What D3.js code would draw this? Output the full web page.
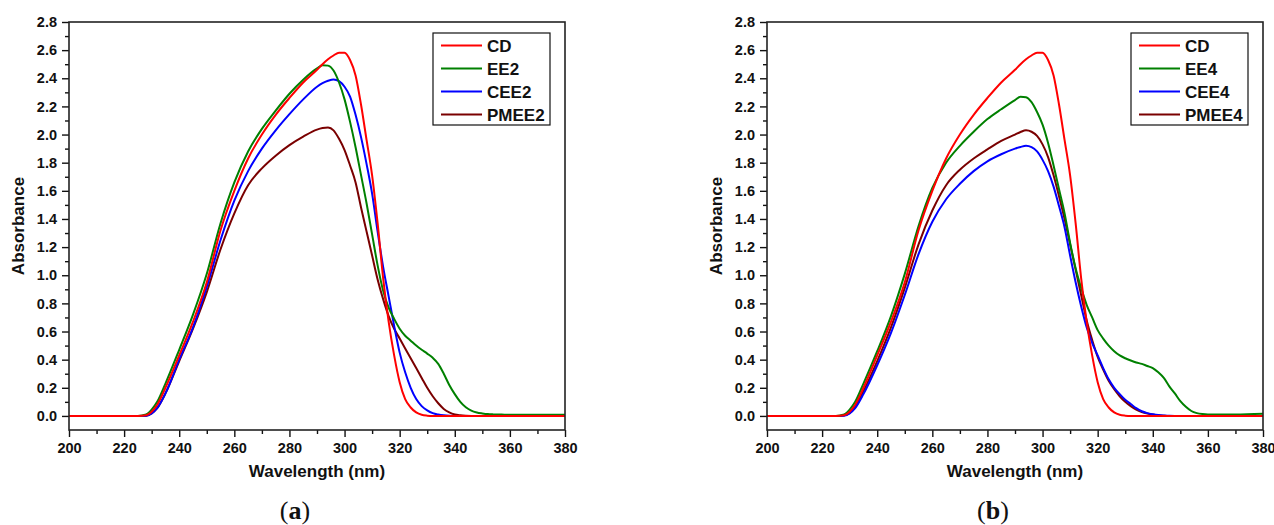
<!DOCTYPE html>
<html>
<head>
<meta charset="utf-8">
<script src="https://cdn.jsdelivr.net/npm/d3@7"></script>
<style>
  body { margin: 0; background: #fff; }
  svg { display: block; }
</style>
</head>
<body>
<svg id="fig" width="1274" height="525"></svg>
<script>
// UV-Vis absorption spectra, wavelength in nm
const wavelength = [200,210,220,225,228,230,232,235,240,245,250,255,260,265,270,275,280,285,290,
  292,294,296,298,300,302,304,306,308,310,312,314,316,318,320,322,324,326,328,330,
  332,334,336,338,340,342,344,346,348,350,352,354,356,358,360,370,380];

const cd = [0,0,0,0,0.005,0.03,0.08,0.2,
  0.43,0.67,0.95,1.32,1.60,1.83,2.00,2.14,2.26,2.37,2.46,
  2.50,2.535,2.562,2.582,2.582,2.53,2.42,2.21,1.96,1.71,1.37,0.98,0.67,0.43,0.24,0.12,0.06,0.025,0.008,0.002,
  0,0,0,0,0,0,0,0,0,0,0,0,0,0,0,0,0];

const ee2 = [0,0,0,0,0.01,0.045,0.1,0.23,
  0.47,0.72,1.01,1.37,1.66,1.88,2.04,2.17,2.29,2.39,2.47,
  2.493,2.49,2.455,2.37,2.25,2.09,1.91,1.71,1.51,1.29,1.07,0.89,0.77,0.69,0.62,0.57,0.535,0.50,0.47,0.443,
  0.413,0.37,0.30,0.22,0.155,0.10,0.062,0.038,0.025,0.018,0.013,0.011,0.01,0.009,0.008,0.008,0.008];

const cee2 = [0,0,0,0,0.002,0.018,0.055,0.16,
  0.40,0.63,0.917,1.25,1.53,1.74,1.90,2.03,2.145,2.25,2.34,
  2.365,2.382,2.392,2.38,2.34,2.27,2.14,1.98,1.79,1.58,1.31,1.06,0.85,0.64,0.45,0.31,0.20,0.12,0.07,0.04,
  0.02,0.01,0.004,0.001,0,0,0,0,0,0,0,0,0,0,0,0,0];

const pmee2 = [0,0,0,0,0.002,0.018,0.055,0.16,
  0.39,0.62,0.88,1.185,1.44,1.64,1.76,1.85,1.925,1.985,2.035,
  2.046,2.05,2.03,1.97,1.89,1.78,1.66,1.48,1.31,1.14,0.97,0.83,0.71,0.62,0.55,0.48,0.41,0.34,0.27,0.20,
  0.14,0.09,0.05,0.025,0.01,0.004,0.001,0,0,0,0,0,0,0,0,0,0];

const ee4 = [0,0,0,0,0.01,0.045,0.1,0.23,
  0.46,0.71,1.01,1.35,1.62,1.80,1.92,2.02,2.11,2.18,2.245,
  2.268,2.265,2.23,2.16,2.07,1.94,1.78,1.61,1.44,1.23,1.05,0.91,0.79,0.70,0.61,0.55,0.50,0.46,0.43,0.41,
  0.394,0.38,0.37,0.355,0.34,0.31,0.27,0.21,0.16,0.105,0.065,0.035,0.02,0.013,0.01,0.01,0.015];

const cee4 = [0,0,0,0,0.002,0.018,0.055,0.155,
  0.36,0.59,0.86,1.15,1.38,1.54,1.65,1.74,1.81,1.86,1.90,
  1.912,1.92,1.91,1.88,1.82,1.74,1.63,1.49,1.34,1.14,0.95,0.78,0.63,0.52,0.43,0.34,0.26,0.20,0.155,0.115,
  0.085,0.055,0.033,0.02,0.012,0.006,0.003,0.001,0,0,0,0,0,0,0,0,0];

const pmee4 = [0,0,0,0,0.004,0.022,0.062,0.175,
  0.39,0.63,0.91,1.22,1.46,1.64,1.75,1.83,1.895,1.955,2.00,
  2.018,2.03,2.02,1.99,1.93,1.84,1.71,1.56,1.40,1.22,1.04,0.86,0.68,0.54,0.42,0.33,0.25,0.19,0.14,0.10,
  0.07,0.045,0.028,0.017,0.01,0.005,0.002,0,0,0,0,0,0,0,0,0,0];

const xTicks = [200,220,240,260,280,300,320,340,360,380];
const xMinorTicks = [210,230,250,270,290,310,330,350,370];
const yTicks = [0.0,0.2,0.4,0.6,0.8,1.0,1.2,1.4,1.6,1.8,2.0,2.2,2.4,2.6,2.8];
const yMinorTicks = [0.1,0.3,0.5,0.7,0.9,1.1,1.3,1.5,1.7,1.9,2.1,2.3,2.5,2.7];

const lineColors = ["#ff0000", "#008000", "#0000ff", "#7a0000"];

const panels = [
  { tag: "a", left: 69, names: ["CD", "EE2", "CEE2", "PMEE2"], values: [cd, ee2, cee2, pmee2] },
  { tag: "b", left: 767, names: ["CD", "EE4", "CEE4", "PMEE4"], values: [cd, ee4, cee4, pmee4] }
];

const W = 496, H = 408, TOP = 22;
const labelFont = "'Liberation Sans', Arial, Helvetica, sans-serif";
const svg = d3.select("#fig");

panels.forEach(p => {
  const g = svg.append("g").attr("transform", `translate(${p.left},${TOP})`);
  const x = d3.scaleLinear().domain([200, 380]).range([0, W]);
  const y = d3.scaleLinear().domain([-0.1, 2.8]).range([H, 0]);

  // clip for the spectra
  const clipId = "clip-" + p.tag;
  g.append("clipPath").attr("id", clipId)
    .append("rect").attr("width", W).attr("height", H);

  // spectra
  const line = d3.line()
    .x((d, i) => x(wavelength[i]))
    .y(d => y(d))
    .curve(d3.curveMonotoneX);

  const curves = g.append("g").attr("clip-path", `url(#${clipId})`);
  // draw back-to-front so CD sits on top
  [3, 2, 1, 0].forEach(k => {
    curves.append("path")
      .datum(p.values[k])
      .attr("d", line)
      .attr("fill", "none")
      .attr("stroke", lineColors[k])
      .attr("stroke-width", 2)
      .attr("stroke-linejoin", "round");
  });

  // axes: major + minor ticks
  const styleAxis = sel => {
    sel.selectAll("path").remove();
    sel.selectAll("line").attr("stroke", "#111").attr("stroke-width", 1.4);
    sel.selectAll("text")
      .attr("fill", "#111")
      .style("font-family", labelFont)
      .style("font-weight", "bold")
      .style("font-size", "14.5px");
  };

  g.append("g").attr("transform", `translate(0,${H})`)
    .call(d3.axisBottom(x).tickValues(xTicks).tickSize(7).tickPadding(6).tickFormat(d3.format("d")))
    .call(styleAxis);
  g.append("g").attr("transform", `translate(0,${H})`)
    .call(d3.axisBottom(x).tickValues(xMinorTicks).tickSize(4).tickFormat(""))
    .call(styleAxis);
  g.append("g")
    .call(d3.axisLeft(y).tickValues(yTicks).tickSize(7).tickPadding(5).tickFormat(d3.format(".1f")))
    .call(styleAxis);
  g.append("g")
    .call(d3.axisLeft(y).tickValues(yMinorTicks).tickSize(4).tickFormat(""))
    .call(styleAxis);

  // frame
  g.append("rect")
    .attr("width", W).attr("height", H)
    .attr("fill", "none")
    .attr("stroke", "#222")
    .attr("stroke-width", 1.6);

  // axis titles
  g.append("text")
    .attr("x", W / 2).attr("y", H + 47)
    .attr("text-anchor", "middle")
    .style("font-family", labelFont).style("font-weight", "bold").style("font-size", "17px")
    .attr("fill", "#111")
    .text("Wavelength (nm)");

  g.append("text")
    .attr("transform", `translate(${-45},${H / 2}) rotate(-90)`)
    .attr("text-anchor", "middle")
    .style("font-family", labelFont).style("font-weight", "bold").style("font-size", "17px")
    .attr("fill", "#111")
    .text("Absorbance");

  // legend
  const lg = g.append("g").attr("transform", "translate(364,11)");
  lg.append("rect")
    .attr("width", 117).attr("height", 92)
    .attr("fill", "#fff").attr("stroke", "#111").attr("stroke-width", 1.2);
  p.names.forEach((name, k) => {
    const ry = 12.5 + k * 23;
    lg.append("line")
      .attr("x1", 8).attr("x2", 49).attr("y1", ry).attr("y2", ry)
      .attr("stroke", lineColors[k]).attr("stroke-width", 2.2);
    lg.append("text")
      .attr("x", 54).attr("y", ry).attr("dy", "0.36em")
      .style("font-family", labelFont).style("font-weight", "bold").style("font-size", "17px")
      .attr("fill", "#111")
      .text(name);
  });

  // panel caption
  const cap = g.append("text")
    .attr("x", 226).attr("y", 497)
    .attr("text-anchor", "middle")
    .style("font-family", "'Liberation Serif', 'DejaVu Serif', serif")
    .style("font-size", "26px")
    .attr("fill", "#111");
  cap.append("tspan").text("(");
  cap.append("tspan").style("font-weight", "bold").text(p.tag);
  cap.append("tspan").text(")");
});
</script>
</body>
</html>
